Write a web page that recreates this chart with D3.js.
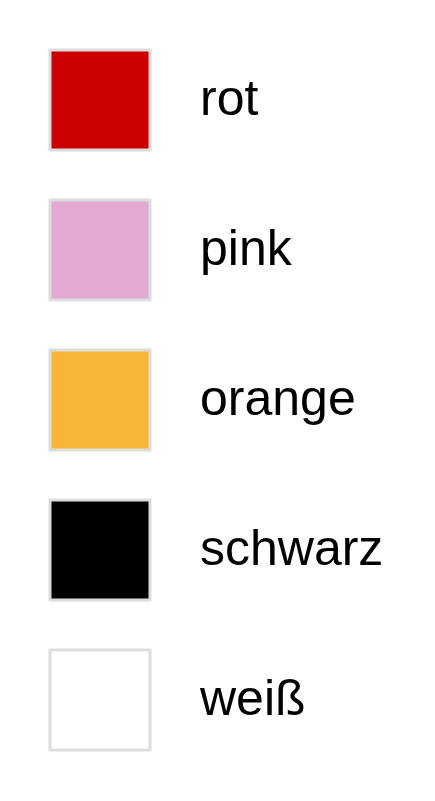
<!DOCTYPE html>
<html>
<head>
<meta charset="utf-8">
<script src="https://cdn.jsdelivr.net/npm/d3@7"></script>
<style>
  html, body { margin: 0; padding: 0; background: #fff; }
  svg { display: block; }
</style>
</head>
<body>
<div id="legend"></div>
<script>
// Legend entries
const labels = ["rot", "pink", "orange", "schwarz", "weiß"];
const colors = ["#cc0000", "#e2aad2", "#f7b536", "#000000", "#ffffff"];

const width = 435;
const height = 801;

const svg = d3.select("#legend").append("svg")
    .attr("width", width)
    .attr("height", height);

// One row per entry, 150px apart
const y = d3.scaleBand()
    .domain(labels)
    .range([25, 775]);

const swatch = 100;

const row = svg.selectAll(".row")
    .data(labels)
    .enter().append("g")
    .attr("class", "row")
    .attr("transform", d => `translate(0,${y(d) + y.bandwidth() / 2})`);

row.append("rect")
    .attr("x", 50)
    .attr("y", -swatch / 2)
    .attr("width", swatch)
    .attr("height", swatch)
    .attr("fill", (d, i) => colors[i])
    .attr("stroke", "#dddddd")
    .attr("stroke-width", 3);

row.append("text")
    .attr("x", 200)
    .attr("y", 15)
    .attr("font-family", "'Liberation Sans', Arial, sans-serif")
    .attr("font-size", 50)
    .attr("fill", "#000")
    .text(d => d);
</script>
</body>
</html>
